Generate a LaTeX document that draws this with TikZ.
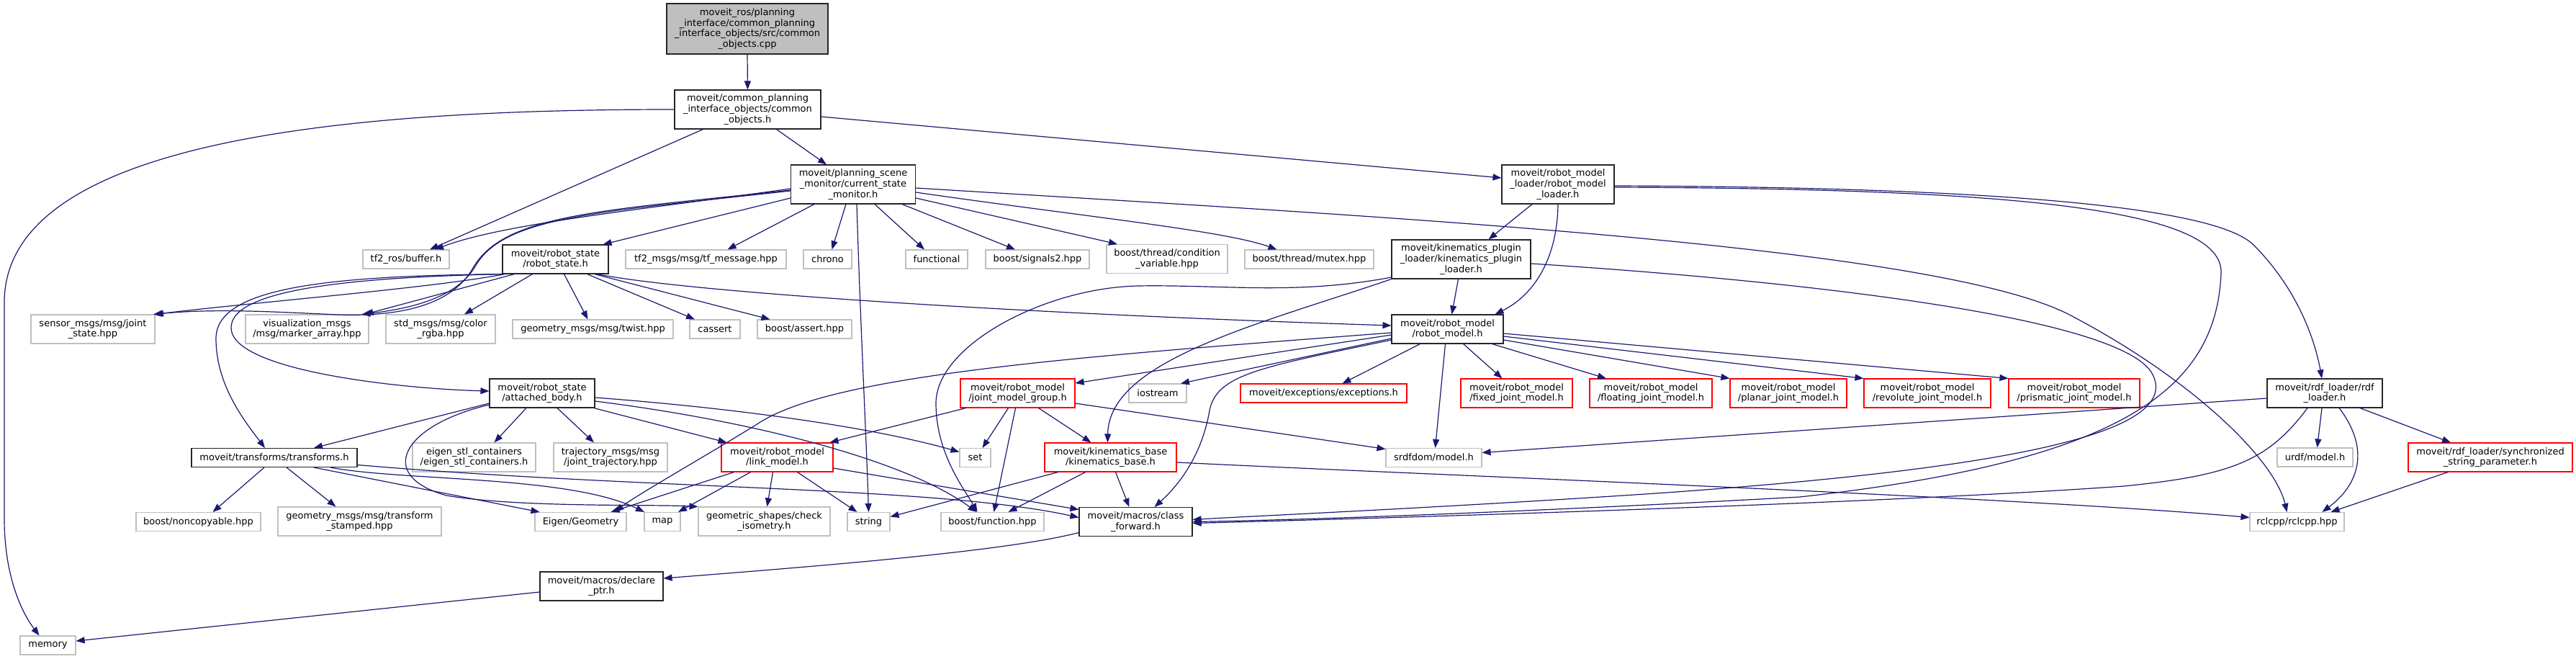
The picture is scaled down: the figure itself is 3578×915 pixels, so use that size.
\documentclass[tikz,border=0pt]{standalone}
\usepackage{fontspec}
\setmainfont{DejaVu Sans}
\usepackage{tikz}
\usepackage{xcolor}
\usetikzlibrary{arrows.meta}
\definecolor{edgeblue}{HTML}{191970}
\definecolor{grayline}{HTML}{BFBFBF}

\begin{document}
\begin{tikzpicture}[x=1pt, y=-1pt,
    incfile/.style={draw=black!85, line width=1.1pt, rectangle, inner sep=0pt, align=center,
      font=\fontsize{13}{14.6}\selectfont},
    extfile/.style={incfile, draw=grayline},
    cutfile/.style={incfile, draw=red},
    mainfile/.style={incfile, fill=grayline},
    lineone/.style={minimum height=26},
    linetwo/.style={minimum height=40},
    linethree/.style={minimum height=54},
    linefour/.style={minimum height=70},
    dep/.style={draw=edgeblue, line width=1.2pt, -{Triangle[length=12pt,width=9pt]}}]
  \useasboundingbox (0,0) rectangle (3578,915);
  % scale: 1 unit = 1 px of the 3578x915 graph
  % --- top rows
  \node[mainfile, linefour, minimum width=224] (root) at (1038,40)
    {moveit\_ros/planning\\\_interface/common\_planning\\\_interface\_objects/src/common\\\_objects.cpp};
  \node[incfile, linethree, minimum width=203] (common) at (1038.5,152)
    {moveit/common\_planning\\\_interface\_objects/common\\\_objects.h};
  \node[incfile, linethree, minimum width=173] (csm) at (1185,256)
    {moveit/planning\_scene\\\_monitor/current\_state\\\_monitor.h};
  \node[incfile, linethree, minimum width=156] (rml) at (2164,256)
    {moveit/robot\_model\\\_loader/robot\_model\\\_loader.h};
  \node[extfile, lineone, minimum width=120] (tfbuf) at (564,360) {tf2\_ros/buffer.h};
  \node[incfile, linetwo, minimum width=147] (rstate) at (771.5,360)
    {moveit/robot\_state\\/robot\_state.h};
  \node[extfile, lineone, minimum width=223] (tfmsg) at (980.5,360) {tf2\_msgs/msg/tf\_message.hpp};
  \node[extfile, lineone, minimum width=67] (chrono) at (1149.5,360) {chrono};
  \node[extfile, lineone, minimum width=86] (functional) at (1301,360) {functional};
  \node[extfile, lineone, minimum width=144] (signals) at (1441,360) {boost/signals2.hpp};
  \node[extfile, linetwo, minimum width=168] (condvar) at (1621,359.5)
    {boost/thread/condition\\\_variable.hpp};
  \node[extfile, lineone, minimum width=179] (mutex) at (1818.5,360) {boost/thread/mutex.hpp};
  \node[incfile, linethree, minimum width=193] (kpl) at (2029.5,360)
    {moveit/kinematics\_plugin\\\_loader/kinematics\_plugin\\\_loader.h};
  % --- robot_state row
  \node[incfile, linetwo, minimum width=155] (rmodel) at (2010.5,457)
    {moveit/robot\_model\\/robot\_model.h};
  \node[extfile, linetwo, minimum width=172] (jstate) at (129,457) {sensor\_msgs/msg/joint\\\_state.hpp};
  \node[extfile, linetwo, minimum width=171] (marker) at (426.5,457)
    {visualization\_msgs\\/msg/marker\_array.hpp};
  \node[extfile, linetwo, minimum width=152] (rgba) at (612,457) {std\_msgs/msg/color\\\_rgba.hpp};
  \node[extfile, lineone, minimum width=223] (twist) at (823.5,457) {geometry\_msgs/msg/twist.hpp};
  \node[extfile, lineone, minimum width=70] (cassert) at (993,457) {cassert};
  \node[extfile, lineone, minimum width=131] (bassert) at (1117.5,457) {boost/assert.hpp};
  % --- robot_model row
  \node[incfile, linetwo, minimum width=146] (attached) at (753,546)
    {moveit/robot\_state\\/attached\_body.h};
  \node[cutfile, linetwo, minimum width=159] (jmg) at (1413.5,546)
    {moveit/robot\_model\\/joint\_model\_group.h};
  \node[extfile, lineone, minimum width=80] (iostream) at (1608,546) {iostream};
  \node[cutfile, lineone, minimum width=231] (exceptions) at (1838.5,546)
    {moveit/exceptions/exceptions.h};
  \node[cutfile, linetwo, minimum width=155] (fixed) at (2106.5,546)
    {moveit/robot\_model\\/fixed\_joint\_model.h};
  \node[cutfile, linetwo, minimum width=170] (floating) at (2293,546)
    {moveit/robot\_model\\/floating\_joint\_model.h};
  \node[cutfile, linetwo, minimum width=162] (planar) at (2484,546)
    {moveit/robot\_model\\/planar\_joint\_model.h};
  \node[cutfile, linetwo, minimum width=176] (revolute) at (2677,546)
    {moveit/robot\_model\\/revolute\_joint\_model.h};
  \node[cutfile, linetwo, minimum width=182] (prismatic) at (2881,546)
    {moveit/robot\_model\\/prismatic\_joint\_model.h};
  \node[incfile, linetwo, minimum width=160] (rdf) at (3229,546)
    {moveit/rdf\_loader/rdf\\\_loader.h};
  % --- link_model row
  \node[incfile, lineone, minimum width=230] (transforms) at (381,635.5)
    {moveit/transforms/transforms.h};
  \node[extfile, linetwo, minimum width=171] (eigenstl) at (658.5,635)
    {eigen\_stl\_containers\\/eigen\_stl\_containers.h};
  \node[extfile, linetwo, minimum width=158] (traj) at (848,635)
    {trajectory\_msgs/msg\\/joint\_trajectory.hpp};
  \node[cutfile, linetwo, minimum width=155] (link) at (1079.5,635)
    {moveit/robot\_model\\/link\_model.h};
  \node[extfile, lineone, minimum width=43] (set) at (1354.5,635.5) {set};
  \node[cutfile, linetwo, minimum width=183] (kbase) at (1542.5,635)
    {moveit/kinematics\_base\\/kinematics\_base.h};
  \node[extfile, lineone, minimum width=133] (srdf) at (1991.5,635.5) {srdfdom/model.h};
  \node[extfile, lineone, minimum width=105] (urdf) at (3215.5,635) {urdf/model.h};
  \node[cutfile, linetwo, minimum width=228] (sync) at (3459,635)
    {moveit/rdf\_loader/synchronized\\\_string\_parameter.h};
  % --- leaf row
  \node[extfile, lineone, minimum width=173] (noncopy) at (275.5,724.5) {boost/noncopyable.hpp};
  \node[extfile, linetwo, minimum width=227] (tfstamped) at (499.5,724)
    {geometry\_msgs/msg/transform\\\_stamped.hpp};
  \node[extfile, lineone, minimum width=127] (eigengeo) at (806.5,724.5) {Eigen/Geometry};
  \node[extfile, lineone, minimum width=50] (map) at (920,724.5) {map};
  \node[extfile, linetwo, minimum width=183] (checkiso) at (1061.5,724)
    {geometric\_shapes/check\\\_isometry.h};
  \node[extfile, lineone, minimum width=59] (string) at (1206.5,724.5) {string};
  \node[extfile, lineone, minimum width=143] (bfunc) at (1378.5,724.5) {boost/function.hpp};
  \node[incfile, linetwo, minimum width=157] (classfwd) at (1577.5,724.5)
    {moveit/macros/class\\\_forward.h};
  \node[extfile, lineone, minimum width=131] (rclcpp) at (3190.5,724.5) {rclcpp/rclcpp.hpp};
  \node[incfile, linetwo, minimum width=171] (declare) at (835.5,814)
    {moveit/macros/declare\\\_ptr.h};
  \node[extfile, lineone, minimum width=77] (memory) at (66.5,896) {memory};

  % --- edges of the source file and common_objects.h
  \draw[dep] (root.south) -- (common.north);
  \draw[dep] ([xshift=-62]common.south) -- ([xshift=33]tfbuf.north);
  \draw[dep] ([xshift=40]common.south) -- ([xshift=-37]csm.north);
  \draw[dep] ([yshift=-10]common.east) -- ([yshift=9]rml.west);
  \draw[dep] (common.west) .. controls (500,152) and (6,190) .. (6,420) -- (6,720)
    .. controls (6,800) and (30,850) .. ([xshift=-12]memory.north);
  % --- current_state_monitor.h
  \draw[dep] ([yshift=-6]csm.west) .. controls (900,290) and (700,310) .. ([xshift=40]tfbuf.north);
  \draw[dep] ([yshift=-9]csm.west) .. controls (830,295) and (700,300) .. (660,370)
    .. controls (635,412) and (575,428) .. ([xshift=76]marker.north);
  \draw[dep] ([yshift=-8]csm.west) .. controls (830,293) and (700,298) .. (657,372)
    .. controls (630,420) and (565,440) .. (470,437)
    .. controls (380,433) and (300,428) .. ([xshift=84]jstate.north);
  \draw[dep] ([yshift=-19]csm.west) -- ([xshift=66]rstate.north);
  \draw[dep] ([xshift=-54]csm.south) -- ([xshift=30]tfmsg.north);
  \draw[dep] ([xshift=-10]csm.south) -- ([xshift=6]chrono.north);
  \draw[dep] ([xshift=5]csm.south) .. controls (1195,450) and (1203,600) .. (string.north);
  \draw[dep] ([xshift=30]csm.south) -- ([xshift=-17]functional.north);
  \draw[dep] ([xshift=68]csm.south) -- ([xshift=-31]signals.north);
  \draw[dep] ([yshift=-19]csm.east) -- ([xshift=-69]condvar.north);
  \draw[dep] ([yshift=-11]csm.east) .. controls (1500,300) and (1700,320) .. ([xshift=-45]mutex.north);
  \draw[dep] ([yshift=-5]csm.east) .. controls (1900,300) and (2700,340) .. (2880,440)
    .. controls (3050,530) and (3160,640) .. ([xshift=-14]rclcpp.north);
  % --- robot_model_loader.h and kinematics_plugin_loader.h
  \draw[dep] ([xshift=-36]rml.south) -- ([xshift=38]kpl.north);
  \draw[dep] (rml.south) .. controls (2163,360) and (2130,410) .. ([xshift=66]rmodel.north);
  \draw[dep] ([yshift=-2]rml.east) .. controls (2800,260) and (3080,290) .. (3130,340)
    .. controls (3190,400) and (3215,470) .. ([xshift=-4]rdf.north);
  \draw[dep] ([yshift=-4]rml.east) .. controls (2800,262) and (3090,290) .. (3085,380)
    .. controls (3078,540) and (2950,640) .. (2500,690)
    .. controls (2100,712) and (1800,722) .. (classfwd.east);
  \draw[dep] ([xshift=-4]kpl.south) -- ([xshift=6]rmodel.north);
  \draw[dep] (kpl.south west) .. controls (1750,450) and (1540,500) .. ([xshift=-4]kbase.north);
  \draw[dep] ([yshift=-25]kpl.west) .. controls (1800,410) and (1700,395) .. (1580,397)
    .. controls (1450,400) and (1300,480) .. (1300,560)
    .. controls (1300,630) and (1340,680) .. ([xshift=-21]bfunc.north);
  \draw[dep] ([yshift=-6]kpl.east) .. controls (2500,390) and (2950,440) .. (2990,520)
    .. controls (3030,600) and (2800,650) .. (2300,685)
    .. controls (2000,705) and (1750,716) .. ([yshift=3]classfwd.east);
  % --- robot_model.h
  \draw[dep] ([yshift=-8]rmodel.west) -- ([yshift=14]jmg.east);
  \draw[dep] ([yshift=-13]rmodel.west) -- ([xshift=32]iostream.north);
  \draw[dep] ([xshift=-38]rmodel.south) -- ([xshift=26]exceptions.north);
  \draw[dep] ([xshift=-3]rmodel.south) -- ([xshift=2]srdf.north);
  \draw[dep] ([xshift=22]rmodel.south) -- ([xshift=-20]fixed.north);
  \draw[dep] ([xshift=62]rmodel.south) -- ([xshift=-62]floating.north);
  \draw[dep] ([yshift=-15]rmodel.east) -- (planar.north west);
  \draw[dep] ([yshift=-10]rmodel.east) -- (revolute.north west);
  \draw[dep] ([yshift=-6]rmodel.east) -- (prismatic.north west);
  \draw[dep] ([yshift=-15]rmodel.west) .. controls (1750,510) and (1690,520) .. (1680,570)
    .. controls (1668,640) and (1630,680) .. ([xshift=26]classfwd.north);
  \draw[dep] ([yshift=-5]rmodel.west) .. controls (1500,495) and (1150,520) .. (1050,590)
    .. controls (960,645) and (880,690) .. ([xshift=48]eigengeo.north);
  % --- robot_state.h
  \draw[dep] ([xshift=58]rstate.south) .. controls (950,405) and (1400,435) .. ([yshift=5]rmodel.west);
  \draw[dep] ([xshift=-70]rstate.south) .. controls (600,400) and (350,420) .. ([xshift=86]jstate.north);
  \draw[dep] ([xshift=-57]rstate.south) -- ([xshift=80]marker.north);
  \draw[dep] ([xshift=-32]rstate.south) -- ([xshift=33]rgba.north);
  \draw[dep] ([xshift=12]rstate.south) -- ([xshift=-7]twist.north);
  \draw[dep] ([xshift=44]rstate.south) -- ([xshift=-28]cassert.north);
  \draw[dep] ([xshift=54]rstate.south) -- ([xshift=-48]bassert.north);
  \draw[dep] ([xshift=-73]rstate.south) .. controls (500,385) and (321,400) .. (321,455)
    .. controls (321,515) and (560,540) .. ([yshift=3]attached.west);
  \draw[dep] ([xshift=-72]rstate.south) .. controls (450,383) and (300,400) .. (300,470)
    .. controls (300,535) and (340,585) .. ([xshift=-13]transforms.north);
  % --- attached_body.h
  \draw[dep] ([yshift=-14]attached.west) -- ([xshift=55]transforms.north);
  \draw[dep] ([xshift=-22]attached.south) -- ([xshift=28]eigenstl.north);
  \draw[dep] ([xshift=21]attached.south) -- ([xshift=-23]traj.north);
  \draw[dep] ([xshift=72]attached.south) -- ([xshift=-70]link.north);
  \draw[dep] ([yshift=-6]attached.east) .. controls (1000,565) and (1200,590) .. ([yshift=8]set.west);
  \draw[dep] ([yshift=-11]attached.east) .. controls (1050,585) and (1260,640) .. ([xshift=-22]bfunc.north);
  \draw[dep] ([yshift=-16]attached.west) .. controls (560,590) and (520,660) .. (620,688)
    .. controls (720,705) and (900,700) .. (checkiso.north west);
  % --- transforms.h
  \draw[dep] ([xshift=-14]transforms.south) -- ([xshift=20]noncopy.north);
  \draw[dep] ([xshift=17]transforms.south) -- ([xshift=-33]tfstamped.north);
  \draw[dep] ([xshift=55]transforms.south) -- ([xshift=-57]eigengeo.north);
  \draw[dep] ([xshift=78]transforms.south) .. controls (560,668) and (790,660) .. ([xshift=-25]map.north);
  \draw[dep] ([yshift=-10]transforms.east) .. controls (900,680) and (1300,675) .. ([yshift=6]classfwd.west);
  % --- link_model.h and joint_model_group.h
  \draw[dep] ([xshift=-60]link.south) -- ([xshift=42]eigengeo.north);
  \draw[dep] ([xshift=-37]link.south) -- ([xshift=22]map.north);
  \draw[dep] ([xshift=-6]link.south) -- ([xshift=4]checkiso.north);
  \draw[dep] ([xshift=28]link.south) -- ([xshift=-16]string.north);
  \draw[dep] ([yshift=-15]link.east) -- ([yshift=17]classfwd.west);
  \draw[dep] ([xshift=-72]jmg.south) -- ([xshift=73]link.north);
  \draw[dep] ([xshift=-13]jmg.south) -- ([xshift=10]set.north);
  \draw[dep] ([xshift=-3]jmg.south) -- ([xshift=2]bfunc.north);
  \draw[dep] ([xshift=29]jmg.south) -- ([xshift=-27]kbase.north);
  \draw[dep] ([yshift=-14]jmg.east) -- ([yshift=12]srdf.west);
  % --- kinematics_base.h
  \draw[dep] ([xshift=-73]kbase.south) -- ([yshift=7]string.east);
  \draw[dep] ([xshift=-35]kbase.south) -- ([xshift=22]bfunc.north);
  \draw[dep] ([xshift=7]kbase.south) -- ([xshift=-9]classfwd.north);
  \draw[dep] ([yshift=-7]kbase.east) .. controls (2000,660) and (2800,690) .. ([yshift=6]rclcpp.west);
  % --- rdf_loader.h
  \draw[dep] ([yshift=-7]rdf.west) -- ([yshift=7]srdf.east);
  \draw[dep] ([xshift=-4]rdf.south) -- ([xshift=3]urdf.north);
  \draw[dep] ([xshift=49]rdf.south) -- ([xshift=-55]sync.north);
  \draw[dep] ([xshift=20]rdf.south) .. controls (3290,620) and (3280,670) .. ([xshift=35]rclcpp.north);
  \draw[dep] ([xshift=-24]rdf.south) .. controls (3150,640) and (3100,660) .. (2950,675)
    .. controls (2600,700) and (1900,720) .. ([yshift=-2]classfwd.east);
  \draw[dep] ([xshift=-59]sync.south) -- ([xshift=47]rclcpp.north);
  % --- macros
  \draw[dep] ([yshift=-15]classfwd.west) .. controls (1400,765) and (1150,785) .. ([yshift=11]declare.east);
  \draw[dep] ([yshift=-8]declare.west) -- ([yshift=6]memory.east);
\end{tikzpicture}
\end{document}
